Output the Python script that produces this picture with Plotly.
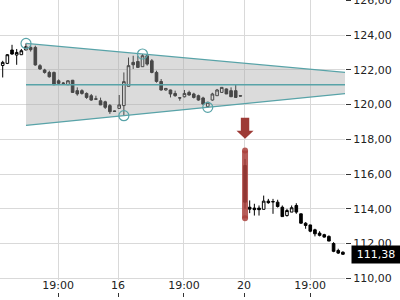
import plotly.graph_objects as go

# ---------------- data ----------------
candle_idx = list(range(74))
opens = [122.25, 122.37, 123.14, 122.85, 122.87, 123.14, 123.29, 123.29, 122.24, 121.99,
         121.85, 121.85, 121.37, 121.24, 121.14, 121.40, 120.80, 120.80, 120.64, 120.51,
         120.33, 120.22, 120.16, 119.94, 119.63, 119.78, 119.94, 121.05, 122.43, 122.48,
         122.18, 122.81, 122.52, 121.85, 121.33, 120.84, 120.84, 120.64, 120.39, 120.45,
         120.70, 120.61, 120.51, 120.38, 119.88, 120.26, 120.51, 120.70, 120.90, 120.80,
         120.80, 120.51, 116.49, 114.09, 114.04, 114.04, 113.97, 114.44, 114.42, 114.38,
         114.09, 113.61, 113.81, 114.19, 113.71, 113.17, 113.07, 112.79, 112.60, 112.51,
         112.41, 112.00, 111.60, 111.50]
highs = [122.52, 122.91, 123.44, 123.20, 123.20, 123.52, 123.39, 123.39, 122.33, 122.06,
         121.95, 121.90, 121.45, 121.30, 121.40, 121.42, 120.99, 120.88, 120.70, 120.61,
         120.51, 120.40, 120.22, 120.03, 119.65, 120.55, 121.85, 122.71, 122.81, 122.81,
         122.91, 122.92, 122.62, 121.95, 121.47, 120.95, 120.86, 120.80, 120.41, 120.84,
         120.80, 120.68, 120.57, 120.45, 120.16, 120.68, 120.90, 121.00, 120.93, 120.99,
         121.15, 120.52, 116.87, 114.48, 114.29, 114.19, 114.76, 114.57, 114.57, 114.52,
         114.19, 114.00, 114.19, 114.32, 113.72, 113.23, 113.08, 112.85, 112.71, 112.56,
         112.47, 112.08, 111.70, 111.55]
lows = [121.56, 122.33, 122.87, 122.29, 122.87, 123.14, 123.05, 122.24, 122.00, 121.78,
        121.55, 121.12, 121.14, 121.18, 121.14, 120.68, 120.51, 120.57, 120.33, 120.22,
        120.30, 119.97, 119.75, 119.46, 119.58, 119.76, 119.36, 121.05, 122.05, 122.12,
        122.18, 122.24, 121.80, 121.26, 120.80, 120.80, 120.41, 120.45, 120.22, 120.41,
        120.51, 120.35, 120.22, 119.99, 119.84, 120.22, 120.51, 120.70, 120.61, 120.45,
        120.41, 120.48, 114.00, 113.75, 113.61, 113.61, 113.97, 114.29, 113.71, 114.07,
        113.55, 113.55, 113.81, 113.71, 113.15, 112.85, 112.65, 112.41, 112.41, 112.34,
        112.14, 111.50, 111.40, 111.35]
closes = [122.43, 122.87, 122.91, 123.00, 123.10, 123.33, 123.16, 122.28, 122.05, 121.85,
          121.60, 121.14, 121.22, 121.22, 121.37, 120.70, 120.61, 120.64, 120.41, 120.26,
          120.31, 119.98, 119.84, 119.59, 119.61, 119.98, 121.32, 122.24, 122.29, 122.14,
          122.81, 122.33, 121.85, 121.33, 120.84, 120.93, 120.61, 120.51, 120.38, 120.64,
          120.55, 120.41, 120.26, 120.03, 120.13, 120.61, 120.84, 120.99, 120.61, 120.45,
          120.41, 120.49, 114.38, 113.98, 113.95, 113.95, 114.44, 114.35, 114.40, 114.13,
          113.55, 113.90, 114.06, 113.81, 113.17, 113.04, 112.71, 112.56, 112.47, 112.37,
          112.14, 111.55, 111.45, 111.38]

# x tick labels (positions on the candle index scale)
tick_pos = [11.87, 24.74, 38.9, 51.78, 65.95]
tick_text = ["19:00", "16", "19:00", "20", "19:00"]

# triangle / channel pattern
channel_x = [5, 74]
channel_upper = [123.52, 121.84]
channel_lower = [118.80, 120.64]
channel_mid = [121.14, 121.14]
pivot_x = [5, 26, 30, 44]
pivot_y = [123.52, 119.36, 122.91, 119.84]

# breakout signal
signal_x = 52
signal_arrow_price = 118.03
signal_band = [117.35, 113.45]

x_range = [-0.58, 73.45]
y_range = [109.9, 126.02]

# ---------------- styles ----------------
TEAL = "#58a3a8"
FONT = "DejaVu Sans"
GRID = "#d9d9d9"

fig = go.Figure()

# channel fill + borders
fig.add_trace(go.Scatter(x=channel_x, y=channel_upper, mode="lines",
                         line=dict(color=TEAL, width=1.3), hoverinfo="skip", showlegend=False))
fig.add_trace(go.Scatter(x=channel_x, y=channel_lower, mode="lines",
                         line=dict(color=TEAL, width=1.3), fill="tonexty",
                         fillcolor="rgba(170,170,170,0.42)", hoverinfo="skip", showlegend=False))
fig.add_trace(go.Scatter(x=channel_x, y=channel_mid, mode="lines",
                         line=dict(color=TEAL, width=1.3), hoverinfo="skip", showlegend=False))

# highlight band behind the breakout candle
fig.add_trace(go.Scatter(x=[signal_x, signal_x], y=signal_band, mode="lines+markers",
                         line=dict(color="rgba(170,65,60,0.85)", width=6),
                         marker=dict(size=6, color="rgba(170,65,60,0.85)"),
                         hoverinfo="skip", showlegend=False))

# candles
fig.add_trace(go.Candlestick(
    x=candle_idx, open=opens, high=highs, low=lows, close=closes,
    increasing=dict(line=dict(color="black", width=1), fillcolor="white"),
    decreasing=dict(line=dict(color="black", width=1), fillcolor="black"),
    whiskerwidth=0, hoverinfo="skip", showlegend=False))

# pivot circles
fig.add_trace(go.Scatter(x=pivot_x, y=pivot_y, mode="markers",
                         marker=dict(symbol="circle-open", size=10, color=TEAL,
                                     line=dict(width=1.2, color=TEAL)),
                         hoverinfo="skip", showlegend=False))

# last price marker (pointer part)
px_per_unit = 345 / (x_range[1] - x_range[0])
fig.add_trace(go.Scatter(x=[x_range[1] + 7 / px_per_unit], y=[closes[-1]], mode="markers",
                         marker=dict(symbol="triangle-left", size=15.6, color="black"),
                         cliponaxis=False, hoverinfo="skip", showlegend=False))

# dummy trace for tick-mark axis
fig.add_trace(go.Scatter(x=[], y=[], xaxis="x2", yaxis="y", showlegend=False, hoverinfo="skip"))

# arrow
fig.add_shape(type="path", xref="x", yref="y", xsizemode="pixel", ysizemode="pixel",
              xanchor=signal_x, yanchor=signal_arrow_price,
              path="M0,0 L-8.5,8 L-4.2,8 L-4.2,21 L4.2,21 L4.2,8 L8.5,8 Z",
              fillcolor="#9d3a35", line=dict(width=0))

# last price label
fig.add_annotation(xref="paper", yref="y", x=1, y=closes[-1], xanchor="left", xshift=6,
                   text=f"{closes[-1]:.2f}".replace(".", ","), showarrow=False,
                   bgcolor="black", font=dict(color="white", size=11, family=FONT),
                   borderpad=2, width=44, align="center")

fig.update_layout(
    width=400, height=300,
    margin=dict(l=0, r=55, t=0, b=0, autoexpand=False),
    paper_bgcolor="white", plot_bgcolor="white",
    separators=",.",
    font=dict(family=FONT, size=11, color="#222"),
    showlegend=False,
    boxgap=0.2,
    xaxis=dict(range=x_range, tickvals=tick_pos, ticktext=tick_text, showgrid=True,
               gridcolor=GRID, gridwidth=1, zeroline=False, showline=False, ticks="",
               rangeslider=dict(visible=False), anchor="y", automargin=False,
               ticklabelstandoff=-3,
               tickfont=dict(size=11, family=FONT, color="#222")),
    xaxis2=dict(range=x_range, tickvals=tick_pos, overlaying="x", anchor="free",
                position=0.01, side="bottom", ticks="inside", ticklen=4, tickcolor="#333",
                tickwidth=1, showticklabels=False, showgrid=False, zeroline=False,
                showline=False, automargin=False),
    yaxis=dict(range=y_range, domain=[20 / 300, 1], side="right", dtick=2, tick0=110,
               tickformat=".2f", showgrid=True, gridcolor=GRID, gridwidth=1,
               zeroline=False, showline=False, ticks="outside", ticklen=5,
               tickcolor="#333", automargin=False, ticklabeloverflow="allow",
               tickfont=dict(size=11, family=FONT, color="#222")),
)

fig.write_html("out.html", config={"displayModeBar": False})
